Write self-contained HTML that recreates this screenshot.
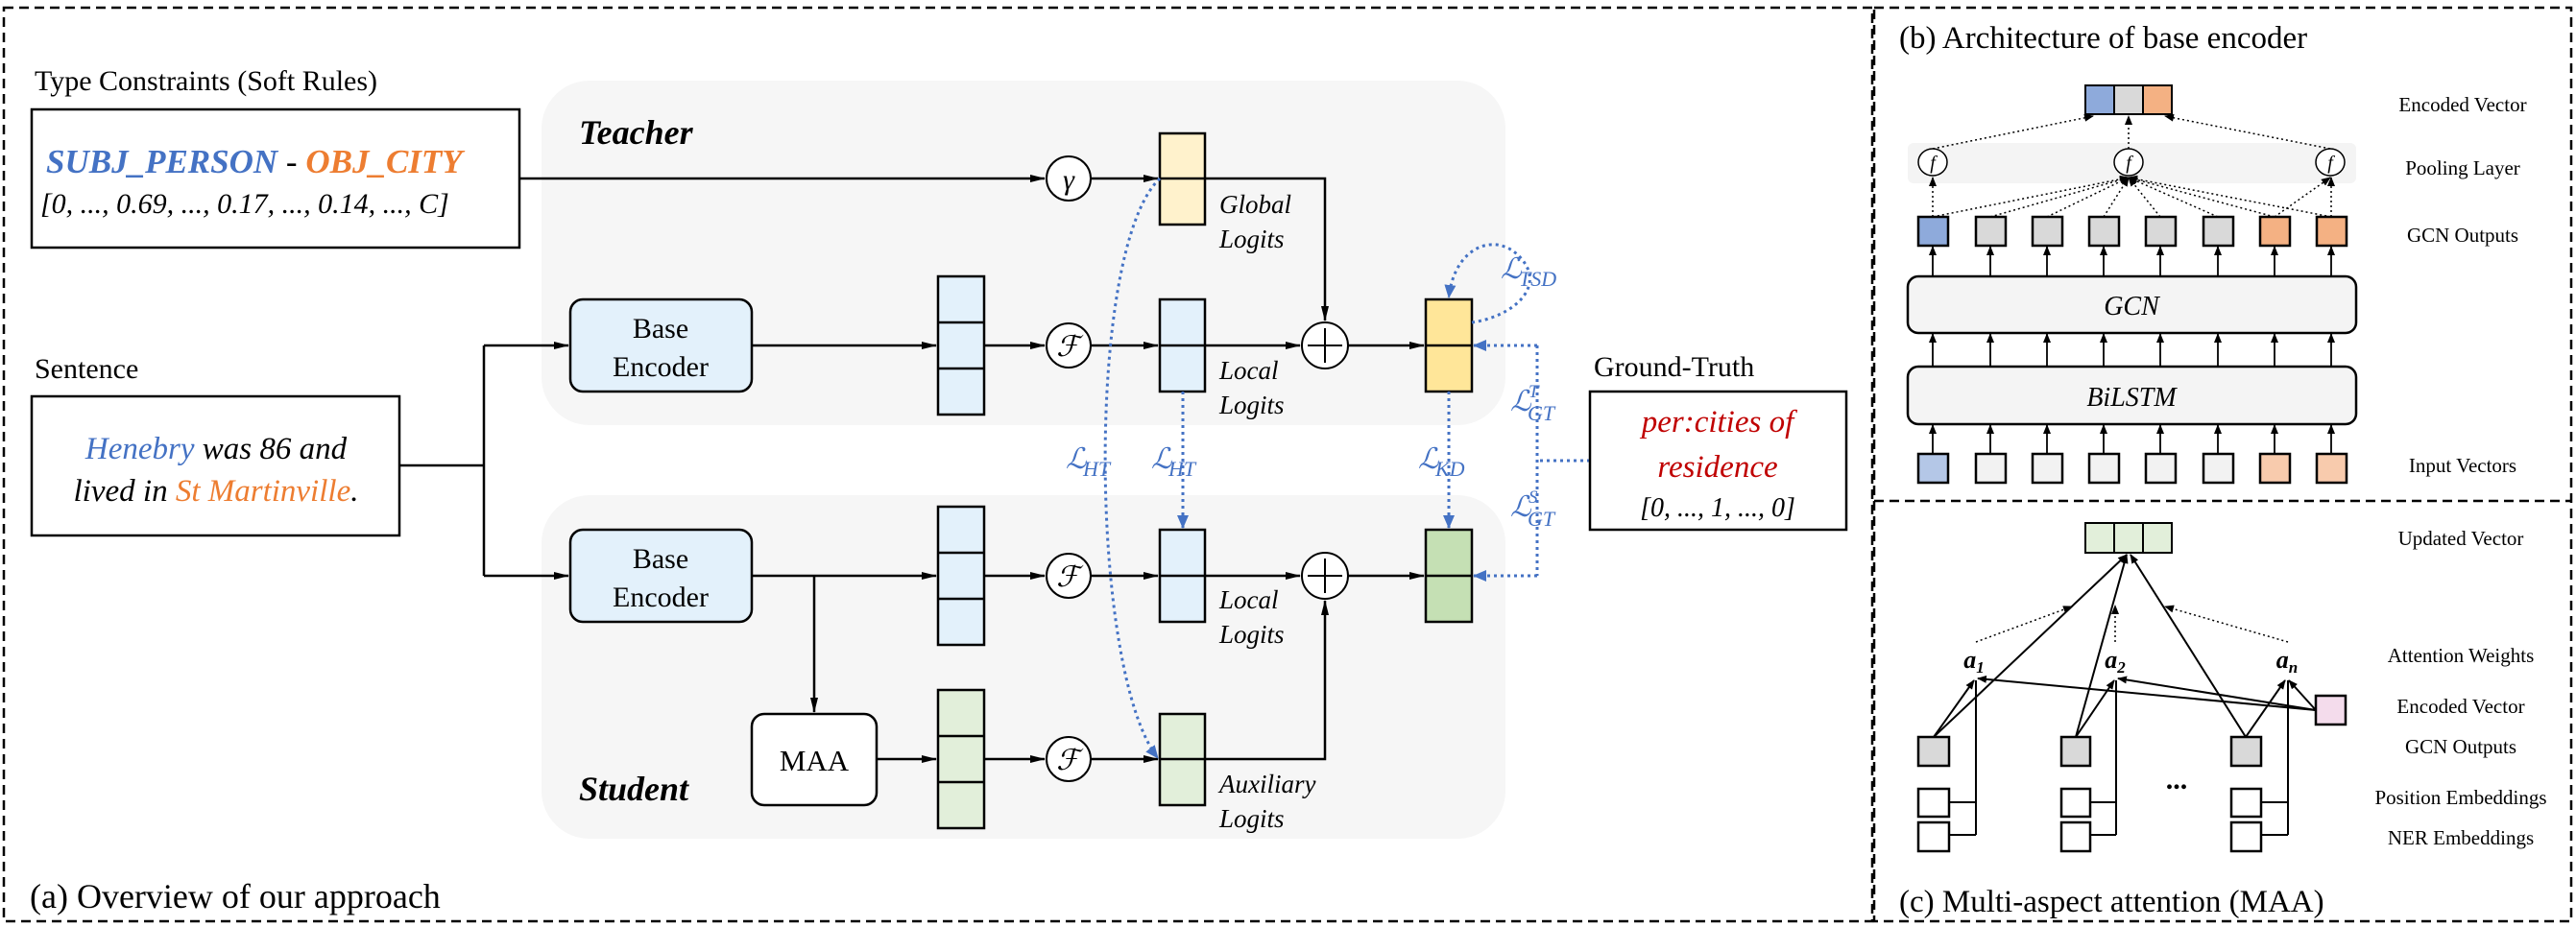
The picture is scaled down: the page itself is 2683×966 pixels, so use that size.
<!DOCTYPE html>
<html><head><meta charset="utf-8"><style>
html,body{margin:0;padding:0;background:#fff}
svg{display:block}
text{font-family:"Liberation Serif",serif}
.it{font-style:italic}
.bl{fill:#4472c4}
</style></head><body>
<svg width="2683" height="966" viewBox="0 0 2683 966" xmlns="http://www.w3.org/2000/svg">
<defs>
<marker id="ar" markerWidth="16" markerHeight="10" refX="15" refY="5" orient="auto" markerUnits="userSpaceOnUse"><path d="M0,1 L16,5 L0,9 Z" fill="#000"/></marker>
<marker id="as" markerWidth="10" markerHeight="8" refX="9" refY="4" orient="auto" markerUnits="userSpaceOnUse"><path d="M0,0 L10,4 L0,8 Z" fill="#000"/></marker>
<marker id="ab" markerWidth="14" markerHeight="12" refX="13" refY="6" orient="auto" markerUnits="userSpaceOnUse"><path d="M0,0 L14,6 L0,12 Z" fill="#4472c4"/></marker>
</defs>
<g fill="none" stroke="#000" stroke-width="2.5" stroke-dasharray="10,6">
<rect x="4" y="8" width="1946" height="952"/>
<rect x="1952" y="8" width="726" height="952"/>
<line x1="1952" y1="522" x2="2678" y2="522"/>
</g>
<rect x="564" y="84" width="1004" height="359" rx="50" fill="#f6f6f6"/>
<rect x="564" y="516" width="1004" height="358" rx="50" fill="#f6f6f6"/>
<text x="36" y="94" font-size="30">Type Constraints (Soft Rules)</text>
<rect x="33" y="114" width="508" height="144" fill="#fff" stroke="#000" stroke-width="2.5"/>
<text x="48" y="180" font-size="35" font-weight="bold" class="it"><tspan fill="#4472c4">SUBJ_PERSON</tspan><tspan fill="#000" font-weight="normal"> - </tspan><tspan fill="#ed7d31">OBJ_CITY</tspan></text>
<text x="42" y="222" font-size="30" class="it">[0, ..., 0.69, ..., 0.17, ..., 0.14, ..., C]</text>
<text x="603" y="150" font-size="36" class="it" font-weight="bold">Teacher</text>
<text x="603" y="834" font-size="36" class="it" font-weight="bold">Student</text>
<text x="36" y="394" font-size="30">Sentence</text>
<rect x="33" y="413" width="383" height="145" fill="#fff" stroke="#000" stroke-width="2.5"/>
<text x="225" y="478" font-size="33" class="it" text-anchor="middle"><tspan fill="#4472c4">Henebry</tspan> was 86 and</text>
<text x="225" y="522" font-size="33" class="it" text-anchor="middle">lived in <tspan fill="#ed7d31">St Martinville</tspan>.</text>
<text x="31" y="946" font-size="36">(a) Overview of our approach</text>
<g fill="none" stroke="#000" stroke-width="2.5">
<path d="M416,485 H504"/>
<path d="M504,360 V600"/>
<path d="M504,360 H592" marker-end="url(#ar)"/>
<path d="M504,600 H592" marker-end="url(#ar)"/>
<path d="M541,186 H1088" marker-end="url(#ar)"/>
<path d="M1136,186 H1206" marker-end="url(#ar)"/>
<path d="M783,360 H975" marker-end="url(#ar)"/>
<path d="M783,600 H975" marker-end="url(#ar)"/>
<path d="M848,600 V742" marker-end="url(#ar)"/>
<path d="M913,791 H975" marker-end="url(#ar)"/>
<path d="M1025,360 H1088" marker-end="url(#ar)"/>
<path d="M1025,600 H1088" marker-end="url(#ar)"/>
<path d="M1025,791 H1088" marker-end="url(#ar)"/>
<path d="M1136,360 H1206" marker-end="url(#ar)"/>
<path d="M1136,600 H1206" marker-end="url(#ar)"/>
<path d="M1136,791 H1206" marker-end="url(#ar)"/>
<path d="M1255,186 H1380 V334" marker-end="url(#ar)"/>
<path d="M1255,360 H1354" marker-end="url(#ar)"/>
<path d="M1255,600 H1354" marker-end="url(#ar)"/>
<path d="M1255,791 H1380 V626" marker-end="url(#ar)"/>
<path d="M1404,360 H1483" marker-end="url(#ar)"/>
<path d="M1404,600 H1483" marker-end="url(#ar)"/>
</g>
<rect x="594" y="312" width="189" height="96" rx="13" fill="#e3f1fb" stroke="#000" stroke-width="2.5"/>
<text x="688" y="352" font-size="30" text-anchor="middle">Base</text>
<text x="688" y="392" font-size="30" text-anchor="middle">Encoder</text>
<rect x="594" y="552" width="189" height="96" rx="13" fill="#e3f1fb" stroke="#000" stroke-width="2.5"/>
<text x="688" y="592" font-size="30" text-anchor="middle">Base</text>
<text x="688" y="632" font-size="30" text-anchor="middle">Encoder</text>
<rect x="783" y="744" width="130" height="95" rx="13" fill="#fff" stroke="#000" stroke-width="2.5"/>
<text x="848" y="803" font-size="31" text-anchor="middle">MAA</text>
<g stroke="#000" stroke-width="2.5">
<rect x="977" y="288" width="48" height="144" fill="#e3f1fb"/><line x1="977" y1="336" x2="1025" y2="336"/><line x1="977" y1="384" x2="1025" y2="384"/>
<rect x="977" y="528" width="48" height="144" fill="#e3f1fb"/><line x1="977" y1="576" x2="1025" y2="576"/><line x1="977" y1="624" x2="1025" y2="624"/>
<rect x="977" y="719" width="48" height="144" fill="#e2efda"/><line x1="977" y1="767" x2="1025" y2="767"/><line x1="977" y1="815" x2="1025" y2="815"/>
<rect x="1208" y="139" width="47" height="95" fill="#fff2cc"/><line x1="1208" y1="186" x2="1255" y2="186"/>
<rect x="1208" y="312" width="47" height="96" fill="#e3f1fb"/><line x1="1208" y1="360" x2="1255" y2="360"/>
<rect x="1208" y="552" width="47" height="96" fill="#e3f1fb"/><line x1="1208" y1="600" x2="1255" y2="600"/>
<rect x="1208" y="744" width="47" height="95" fill="#e2efda"/><line x1="1208" y1="791" x2="1255" y2="791"/>
<rect x="1485" y="312" width="48" height="96" fill="#ffe699"/><line x1="1485" y1="360" x2="1533" y2="360"/>
<rect x="1485" y="552" width="48" height="96" fill="#c5e0b4"/><line x1="1485" y1="600" x2="1533" y2="600"/>
</g>
<g stroke="#000" stroke-width="2" fill="#fff">
<circle cx="1113" cy="186" r="23"/><circle cx="1113" cy="360" r="23"/><circle cx="1113" cy="600" r="23"/><circle cx="1113" cy="791" r="23"/>
<circle cx="1380" cy="360" r="24"/><circle cx="1380" cy="600" r="24"/>
<path d="M1362,360 H1398 M1380,342 V378 M1362,600 H1398 M1380,582 V618" fill="none"/>
</g>
<g font-size="30" class="it" text-anchor="middle">
<text x="1113" y="197">γ</text>
<text x="1112" y="371" font-family="DejaVu Serif">ℱ</text>
<text x="1112" y="611" font-family="DejaVu Serif">ℱ</text>
<text x="1112" y="802" font-family="DejaVu Serif">ℱ</text>
</g>
<g font-size="27" class="it">
<text x="1270" y="222">Global</text><text x="1270" y="258">Logits</text>
<text x="1270" y="395">Local</text><text x="1270" y="431">Logits</text>
<text x="1270" y="634">Local</text><text x="1270" y="670">Logits</text>
<text x="1270" y="826">Auxiliary</text><text x="1270" y="862">Logits</text>
</g>
<g fill="none" stroke="#4472c4" stroke-width="3" stroke-dasharray="3,4">
<path d="M1208,186 C1130,260 1135,700 1206,790" marker-end="url(#ab)"/>
<path d="M1232,408 V550" marker-end="url(#ab)"/>
<path d="M1509,408 V550" marker-end="url(#ab)"/>
<path d="M1533,336 C1575,330 1610,300 1585,270 C1560,240 1515,255 1509,310" marker-end="url(#ab)"/>
<path d="M1656,480 H1601"/>
<path d="M1601,360 V600"/>
<path d="M1601,360 H1535" marker-end="url(#ab)"/>
<path d="M1601,600 H1535" marker-end="url(#ab)"/>
</g>
<g class="it bl" font-size="30">
<text x="1110" y="488">ℒ</text><text x="1128" y="496" font-size="22">HT</text>
<text x="1199" y="488">ℒ</text><text x="1217" y="496" font-size="22">HT</text>
<text x="1477" y="488">ℒ</text><text x="1495" y="496" font-size="22">KD</text>
<text x="1563" y="290">ℒ</text><text x="1582" y="298" font-size="22">TSD</text>
<text x="1573" y="428">ℒ</text><text x="1592" y="414" font-size="19">T</text><text x="1591" y="438" font-size="22">GT</text>
<text x="1573" y="538">ℒ</text><text x="1592" y="524" font-size="19">S</text><text x="1591" y="548" font-size="22">GT</text>
</g>
<text x="1660" y="392" font-size="30">Ground-Truth</text>
<rect x="1656" y="408" width="267" height="144" fill="#fff" stroke="#000" stroke-width="2.5"/>
<text x="1789" y="450" font-size="33" class="it" fill="#c00000" text-anchor="middle">per:cities of</text>
<text x="1789" y="497" font-size="33" class="it" fill="#c00000" text-anchor="middle">residence</text>
<text x="1789" y="538" font-size="28" class="it" text-anchor="middle">[0, ..., 1, ..., 0]</text>

<text x="1978" y="50" font-size="33">(b) Architecture of base encoder</text>
<g font-size="21" text-anchor="middle">
<text x="2565" y="116">Encoded Vector</text>
<text x="2565" y="182">Pooling Layer</text>
<text x="2565" y="252">GCN Outputs</text>
<text x="2565" y="492">Input Vectors</text>
<text x="2563" y="568">Updated Vector</text>
<text x="2563" y="690">Attention Weights</text>
<text x="2563" y="743">Encoded Vector</text>
<text x="2563" y="785">GCN Outputs</text>
<text x="2563" y="838">Position Embeddings</text>
<text x="2563" y="880">NER Embeddings</text>
</g>
<rect x="1987" y="149" width="467" height="42" rx="6" fill="#f4f4f4"/>
<g stroke="#000" stroke-width="2">
<rect x="2172" y="89" width="30" height="30" fill="#8eaadb"/><rect x="2202" y="89" width="30" height="30" fill="#d9d9d9"/><rect x="2232" y="89" width="30" height="30" fill="#f4b183"/>
</g>
<g fill="none" stroke="#000" stroke-width="1.5" stroke-dasharray="2,3">
<path d="M2013,155 L2180,121" marker-end="url(#as)"/>
<path d="M2217,155 V121" marker-end="url(#as)"/>
<path d="M2427,155 L2255,121" marker-end="url(#as)"/>
<path d="M2013,226 V185" marker-end="url(#as)"/>
<path d="M2013,226 L2217,185" marker-end="url(#as)"/>
<path d="M2073,226 L2217,185" marker-end="url(#as)"/>
<path d="M2132,226 L2217,185" marker-end="url(#as)"/>
<path d="M2191,226 L2217,185" marker-end="url(#as)"/>
<path d="M2250,226 L2217,185" marker-end="url(#as)"/>
<path d="M2310,226 L2217,185" marker-end="url(#as)"/>
<path d="M2369,226 L2217,185" marker-end="url(#as)"/>
<path d="M2428,226 L2217,185" marker-end="url(#as)"/>
<path d="M2369,226 L2427,185" marker-end="url(#as)"/>
<path d="M2428,226 V185" marker-end="url(#as)"/>
</g>
<g stroke="#000" stroke-width="1.5" fill="#fff">
<ellipse cx="2013" cy="169" rx="15" ry="14"/><ellipse cx="2217" cy="169" rx="15" ry="14"/><ellipse cx="2427" cy="169" rx="15" ry="14"/>
</g>
<g font-size="20" class="it" text-anchor="middle"><text x="2013" y="176">f</text><text x="2217" y="176">f</text><text x="2427" y="176">f</text></g>
<g stroke="#000" stroke-width="2.5">
<rect x="1998" y="226" width="31" height="30" fill="#8eaadb"/>
<rect x="2058" y="226" width="31" height="30" fill="#d9d9d9"/>
<rect x="2117" y="226" width="31" height="30" fill="#d9d9d9"/>
<rect x="2176" y="226" width="31" height="30" fill="#d9d9d9"/>
<rect x="2235" y="226" width="31" height="30" fill="#d9d9d9"/>
<rect x="2295" y="226" width="31" height="30" fill="#d9d9d9"/>
<rect x="2354" y="226" width="31" height="30" fill="#f4b183"/>
<rect x="2413" y="226" width="31" height="30" fill="#f4b183"/>
<rect x="1998" y="473" width="31" height="30" fill="#b4c7e7"/>
<rect x="2058" y="473" width="31" height="30" fill="#f2f2f2"/>
<rect x="2117" y="473" width="31" height="30" fill="#f2f2f2"/>
<rect x="2176" y="473" width="31" height="30" fill="#f2f2f2"/>
<rect x="2235" y="473" width="31" height="30" fill="#f2f2f2"/>
<rect x="2295" y="473" width="31" height="30" fill="#f2f2f2"/>
<rect x="2354" y="473" width="31" height="30" fill="#f8cbad"/>
<rect x="2413" y="473" width="31" height="30" fill="#f8cbad"/>
</g>
<rect x="1987" y="288" width="467" height="59" rx="11" fill="#f4f4f4" stroke="#000" stroke-width="2.5"/>
<rect x="1987" y="382" width="467" height="60" rx="11" fill="#f4f4f4" stroke="#000" stroke-width="2.5"/>
<text x="2220" y="328" font-size="28" class="it" text-anchor="middle">GCN</text>
<text x="2220" y="423" font-size="28" class="it" text-anchor="middle">BiLSTM</text>
<g stroke="#000" stroke-width="1.8" marker-end="url(#as)">
<path d="M2013,288 V257"/><path d="M2073,288 V257"/><path d="M2132,288 V257"/><path d="M2191,288 V257"/><path d="M2250,288 V257"/><path d="M2310,288 V257"/><path d="M2369,288 V257"/><path d="M2428,288 V257"/>
<path d="M2013,382 V348"/><path d="M2073,382 V348"/><path d="M2132,382 V348"/><path d="M2191,382 V348"/><path d="M2250,382 V348"/><path d="M2310,382 V348"/><path d="M2369,382 V348"/><path d="M2428,382 V348"/>
<path d="M2013,473 V443"/><path d="M2073,473 V443"/><path d="M2132,473 V443"/><path d="M2191,473 V443"/><path d="M2250,473 V443"/><path d="M2310,473 V443"/><path d="M2369,473 V443"/><path d="M2428,473 V443"/>
</g>

<g stroke="#000" stroke-width="2">
<rect x="2172" y="545" width="30" height="31" fill="#e2efda"/><rect x="2202" y="545" width="30" height="31" fill="#e2efda"/><rect x="2232" y="545" width="30" height="31" fill="#e2efda"/>
</g>
<g fill="none" stroke="#000" stroke-width="1.5" stroke-dasharray="2,3">
<path d="M2058,669 L2158,632" marker-end="url(#as)"/>
<path d="M2203,669 V631" marker-end="url(#as)"/>
<path d="M2383,669 L2255,632" marker-end="url(#as)"/>
</g>
<g fill="none" stroke="#000" stroke-width="2">
<path d="M2014,768 L2215,578" marker-end="url(#as)"/>
<path d="M2162,768 L2215,578" marker-end="url(#as)"/>
<path d="M2339,768 L2219,578" marker-end="url(#as)"/>
<path d="M2014,768 L2056,709" marker-end="url(#as)"/>
<path d="M2162,768 L2202,709" marker-end="url(#as)"/>
<path d="M2339,768 L2380,709" marker-end="url(#as)"/>
<path d="M2412,740 L2060,707" marker-end="url(#as)"/>
<path d="M2412,740 L2206,707" marker-end="url(#as)"/>
<path d="M2412,740 L2384,709" marker-end="url(#as)"/>
<path d="M2030,836 H2058 M2030,870 H2058 M2058,870 V709" />
<path d="M2177,836 H2204 M2177,870 H2204 M2204,870 V709"/>
<path d="M2355,836 H2383 M2355,870 H2383 M2383,870 V709"/>
</g>
<g stroke="#000" stroke-width="2.5">
<rect x="1998" y="768" width="32" height="30" fill="#d9d9d9"/>
<rect x="2147" y="768" width="30" height="30" fill="#d9d9d9"/>
<rect x="2324" y="768" width="31" height="30" fill="#d9d9d9"/>
<rect x="2412" y="725" width="31" height="30" fill="#f4dcec"/>
<rect x="1998" y="822" width="32" height="29" fill="#fff"/><rect x="1998" y="857" width="32" height="30" fill="#fff"/>
<rect x="2147" y="822" width="30" height="29" fill="#fff"/><rect x="2147" y="857" width="30" height="30" fill="#fff"/>
<rect x="2324" y="822" width="31" height="29" fill="#fff"/><rect x="2324" y="857" width="31" height="30" fill="#fff"/>
</g>
<g font-size="26" class="it" font-weight="bold" text-anchor="middle">
<text x="2056" y="696">a<tspan font-size="17" dy="5">1</tspan></text>
<text x="2203" y="696">a<tspan font-size="17" dy="5">2</tspan></text>
<text x="2382" y="696">a<tspan font-size="17" dy="5">n</tspan></text>
</g>
<text x="2267" y="822" font-size="30" font-weight="bold" text-anchor="middle">...</text>
<text x="1978" y="950" font-size="33">(c) Multi-aspect attention (MAA)</text>
</svg>
</body></html>
